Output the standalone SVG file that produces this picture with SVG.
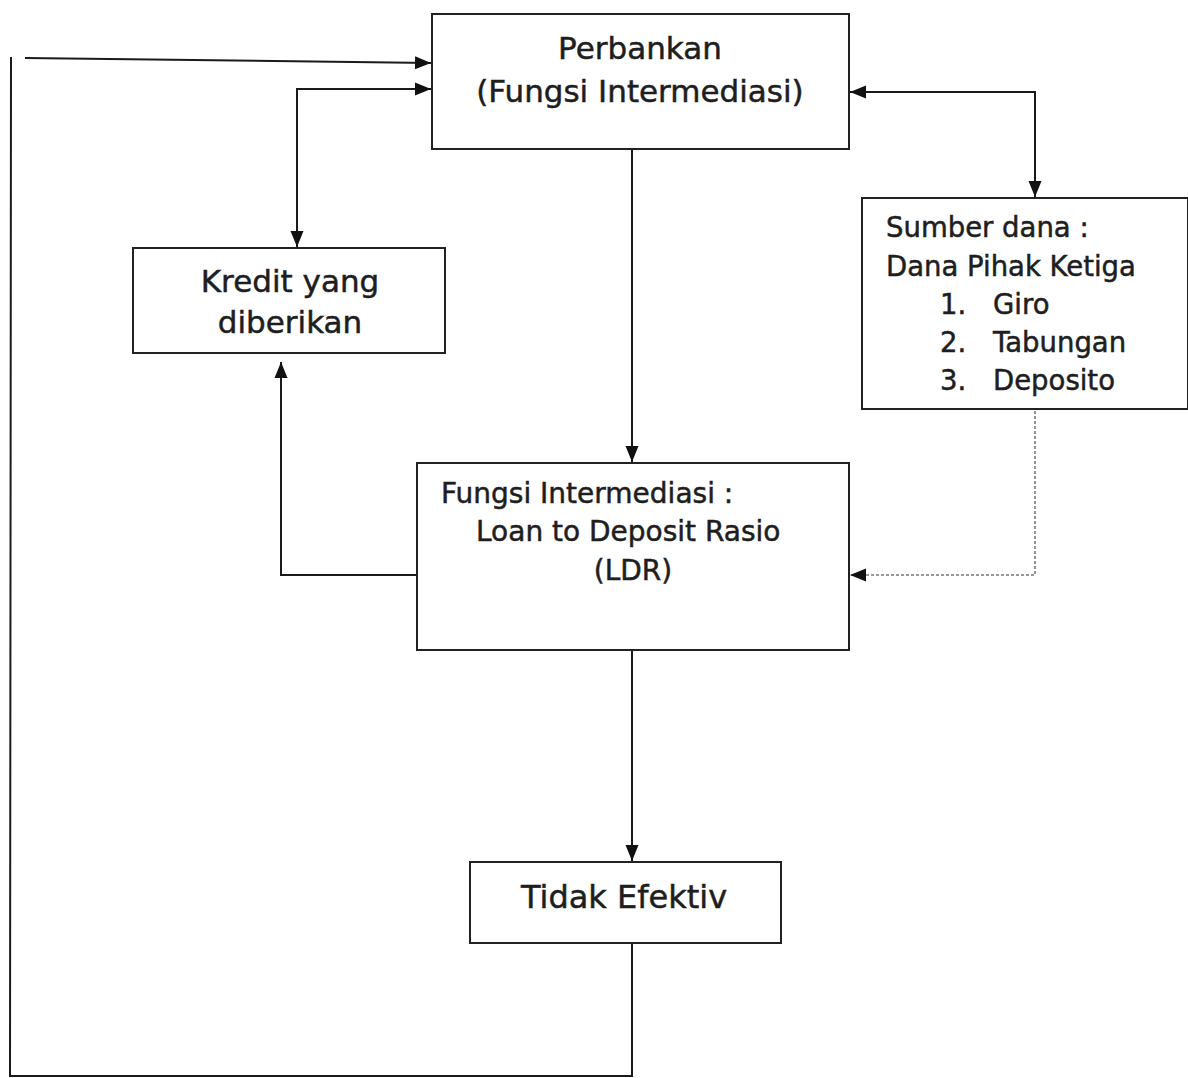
<svg xmlns="http://www.w3.org/2000/svg" width="1188" height="1078" viewBox="0 0 1188 1078">
<style>
.box{fill:#fff;stroke:#222;stroke-width:2}
.t{font-family:"DejaVu Sans","Liberation Sans",sans-serif;fill:#1e1e1e;stroke:#1e1e1e;stroke-width:0.5}
.c{fill:none;stroke:#1a1a1a;stroke-width:2}
.d{fill:none;stroke:#777;stroke-width:1.6;stroke-dasharray:3,2}
</style>
<defs>
<marker id="ah" markerUnits="userSpaceOnUse" markerWidth="18" markerHeight="16" refX="16" refY="8" orient="auto-start-reverse">
<path d="M0,1.5 L16,8 L0,14.5 Z" fill="#111"/>
</marker>
</defs>
<rect width="1188" height="1078" fill="#fff"/>
<g id="connectors">
<line class="c" x1="25" y1="58" x2="431" y2="63" marker-end="url(#ah)"/>
<polyline class="c" points="297,247 297,89 431,89" marker-start="url(#ah)" marker-end="url(#ah)"/>
<polyline class="c" points="850,92 1035,92 1035,197" marker-start="url(#ah)" marker-end="url(#ah)"/>
<line class="c" x1="632" y1="149" x2="632" y2="462" marker-end="url(#ah)"/>
<polyline class="c" points="417,575 281,575 281,362" marker-end="url(#ah)"/>
<polyline class="d" points="1035,411 1035,575 850,575" marker-end="url(#ah)"/>
<line class="c" x1="632" y1="650" x2="632" y2="861" marker-end="url(#ah)"/>
<polyline class="c" points="632,943 632,1076 10,1076 11,57"/>
</g>
<g id="perbankan">
<rect class="box" x="432" y="14" width="417" height="135"/>
<text class="t" x="640" y="59" font-size="31" text-anchor="middle">Perbankan</text>
<text class="t" x="640" y="102" font-size="31" text-anchor="middle">(Fungsi Intermediasi)</text>
</g>
<g id="kredit">
<rect class="box" x="133" y="248" width="312" height="105"/>
<text class="t" x="290" y="292" font-size="31" text-anchor="middle">Kredit yang</text>
<text class="t" x="290" y="333" font-size="31" text-anchor="middle">diberikan</text>
</g>
<g id="sumber">
<rect class="box" x="862" y="198" width="326" height="211"/>
<text class="t" x="886" y="237" font-size="27.5">Sumber dana :</text>
<text class="t" x="886" y="276" font-size="27.5">Dana Pihak Ketiga</text>
<text class="t" x="940" y="314" font-size="27.5">1.</text>
<text class="t" x="993" y="314" font-size="27.5">Giro</text>
<text class="t" x="940" y="352" font-size="27.5">2.</text>
<text class="t" x="993" y="352" font-size="27.5">Tabungan</text>
<text class="t" x="940" y="390" font-size="27.5">3.</text>
<text class="t" x="993" y="390" font-size="27.5">Deposito</text>
</g>
<g id="ldr">
<rect class="box" x="417" y="463" width="432" height="187"/>
<text class="t" x="441" y="503" font-size="28">Fungsi Intermediasi :</text>
<text class="t" x="476" y="541" font-size="28">Loan to Deposit Rasio</text>
<text class="t" x="633" y="580" font-size="28" text-anchor="middle">(LDR)</text>
</g>
<g id="tidak">
<rect class="box" x="470" y="862" width="311" height="81"/>
<text class="t" x="624" y="908" font-size="32" text-anchor="middle">Tidak Efektiv</text>
</g>
</svg>
